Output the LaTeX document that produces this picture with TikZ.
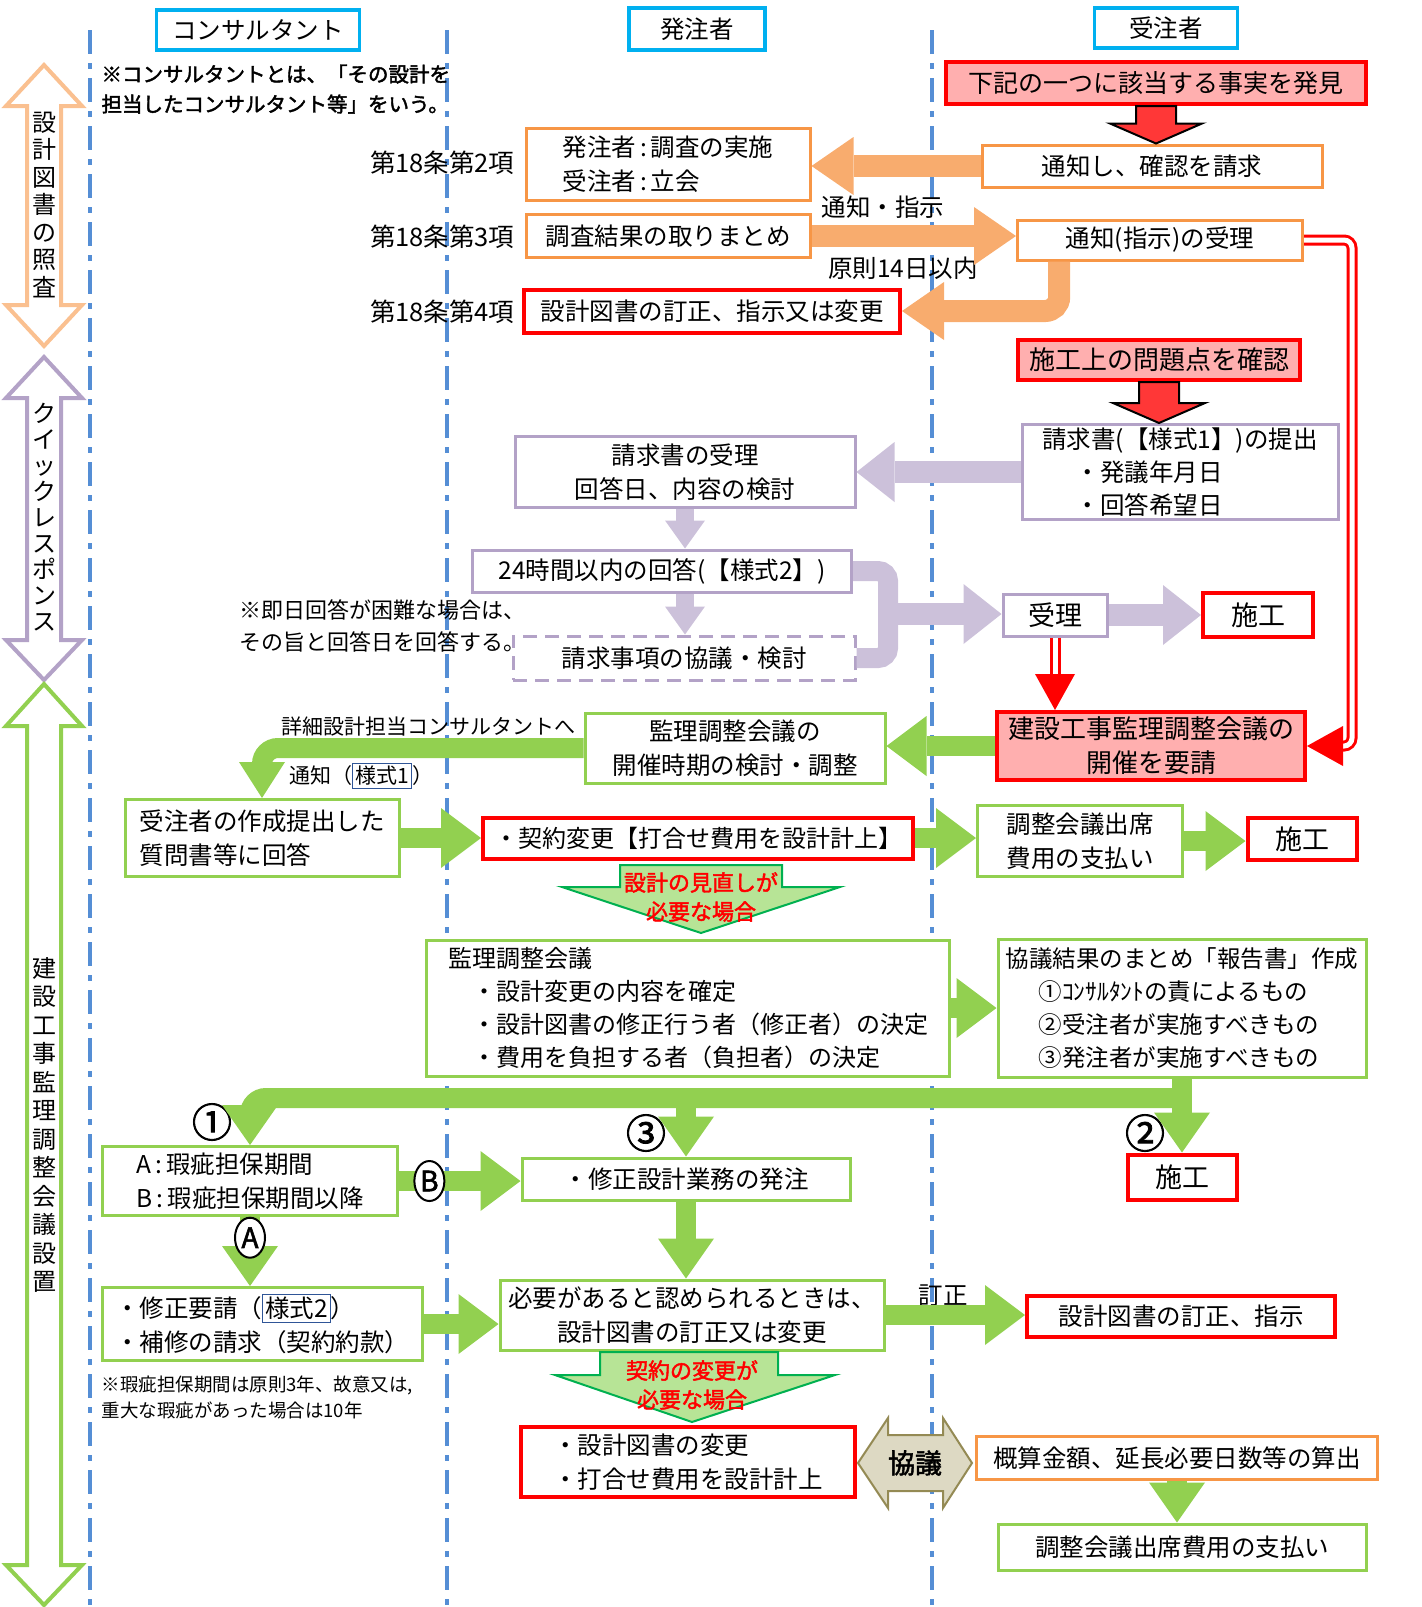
\documentclass[tikz,border=0pt]{standalone}
\usepackage{fontspec}
\setmainfont{Noto Sans CJK JP}
\newfontfamily\jpb{Noto Sans CJK JP}[FakeBold=2]
\usepackage{xcolor}
\usetikzlibrary{arrows.meta, calc, shapes.geometric, positioning}

\definecolor{hcyan}{RGB}{0,176,240}
\definecolor{orng}{RGB}{247,150,70}
\definecolor{orngl}{RGB}{248,172,110}
\definecolor{peach}{RGB}{250,192,144}
\definecolor{lavd}{RGB}{179,162,199}
\definecolor{lavf}{RGB}{204,193,218}
\definecolor{grn}{RGB}{146,208,80}
\definecolor{pinkf}{RGB}{255,175,175}
\definecolor{redf}{RGB}{255,55,55}
\definecolor{callf}{RGB}{183,228,150}
\definecolor{calld}{RGB}{0,176,80}
\definecolor{khakif}{RGB}{221,217,195}
\definecolor{khakid}{RGB}{148,138,84}
\definecolor{laneblue}{RGB}{85,142,213}
\definecolor{styblue}{RGB}{47,85,151}

\newcommand{\fs}[2]{\fontsize{#1}{#2}\selectfont}
\newcommand{\stybox}[1]{{\setlength{\fboxsep}{2pt}\setlength{\fboxrule}{1.2pt}\fcolorbox{styblue}{white}{#1}}}

\begin{document}
\begin{tikzpicture}[x=1pt, y=-1pt, font={\fs{24.5}{34}},
            box/.style={rectangle, draw, line width=3pt, fill=white, inner sep=2pt, align=center},
            hbox/.style={box, draw=hcyan, line width=3.5pt},
            obox/.style={box, draw=orng},
            rbox/.style={box, draw=red, line width=4pt},
            pbox/.style={rbox, fill=pinkf},
            lbox/.style={box, draw=lavd},
            gbox/.style={box, draw=grn},
            lane/.style={draw=laneblue, line width=4pt, dash pattern=on 24pt off 9pt on 6pt off 9pt},
            oarrow/.style={draw=orngl, line width=22pt, -{Triangle[width=58pt,length=42pt,line width=0pt]}},
            larrow/.style={draw=lavf, line width=22pt, -{Triangle[width=60pt,length=38pt,line width=0pt]}},
            ldown/.style={draw=lavf, line width=18pt, -{Triangle[width=40pt,length=28pt,line width=0pt]}},
            lline/.style={draw=lavf, line width=20pt},
            garrow/.style={draw=grn, line width=20pt, -{Triangle[width=60pt,length=40pt,line width=0pt]}},
            gdown/.style={draw=grn, line width=20pt, -{Triangle[width=56pt,length=40pt,line width=0pt]}},
            gbend/.style={draw=grn, line width=20pt, -{Triangle[width=46pt,length=36pt,line width=0pt]}},
            reddbl/.style={draw=red, line width=3pt, double=white, double distance=5pt, -{Triangle[width=40pt,length=36pt,line width=0pt]}},
            redblk/.style={draw=black, line width=2pt, fill=redf},
            callout/.style={draw=calld, line width=2pt, fill=callf},
            vband/.style={line width=4pt, fill=white},
            abcirc/.style={ellipse, draw=black, line width=2pt, fill=white, inner sep=0pt, minimum width=30pt, minimum height=40pt, font={\jpb\fs{28}{30}}},
            circnum/.style={font={\jpb\fs{40}{42}}},
            label/.style={inner sep=1pt}
        ]
\useasboundingbox (0,0) rectangle (1422,1607);

% Lanes
\draw[lane] (90,30) -- (90,1607);
\draw[lane] (447,30) -- (447,1607);
\draw[lane] (932,30) -- (932,1607);

% Phase bands
\draw[vband, draw=peach] (44,65) -- (82,106) -- (61,106) -- (61,305) -- (82,305) -- (44,346) -- (6,305) -- (27,305) -- (27,106) -- (6,106) -- cycle;
\node[align=center, font={\fs{24}{27.5}}] (vt1) at (44,205) {設\\計\\図\\書\\の\\照\\査};
\draw[vband, draw=lavd] (44,357) -- (82,398) -- (61,398) -- (61,640) -- (82,640) -- (44,680) -- (6,640) -- (27,640) -- (27,398) -- (6,398) -- cycle;
\node[align=center, font={\fs{24}{26}}] (vt2) at (44,517) {ク\\イ\\ッ\\ク\\レ\\ス\\ポ\\ン\\ス};
\draw[vband, draw=grn] (44,684) -- (82,726) -- (61,726) -- (61,1565) -- (82,1565) -- (44,1605) -- (6,1565) -- (27,1565) -- (27,726) -- (6,726) -- cycle;
\node[align=center, font={\fs{24}{28.5}}] (vt3) at (44,1125) {建\\設\\工\\事\\監\\理\\調\\整\\会\\議\\設\\置};

% Headers
\node[hbox, minimum width=203pt, minimum height=40pt] (hcon) at (258,30) {コンサルタント};
\node[hbox, minimum width=136pt, minimum height=42pt] (hord) at (697,29) {発注者};
\node[hbox, minimum width=143pt, minimum height=40pt] (hctr) at (1166,28) {受注者};
\node[anchor=north west, align=left, font={\jpb\fs{20.5}{30}}] (note1) at (98,61) {※コンサルタントとは、「その設計を\\担当したコンサルタント等」をいう。};

% Design document check
\node[pbox, minimum width=420pt, minimum height=42pt, font={\fs{25}{30}}] (find) at (1156,83) {下記の一つに該当する事実を発見};
\node[obox, minimum width=340pt, minimum height=42pt] (req1) at (1152,166) {通知し、確認を請求};
\node[obox, minimum width=284pt, minimum height=72pt, align=left] (inv) at (668,164) {発注者\,:\,調査の実施\\受注者\,:\,立会};
\node[anchor=east, font={\fs{25.5}{30}}] (art2) at (518,163) {第18条第2項};
\node[obox, minimum width=284pt, minimum height=43pt] (sum) at (668,236) {調査結果の取りまとめ};
\node[anchor=east, font={\fs{25.5}{30}}] (art3) at (518,237) {第18条第3項};
\node[obox, minimum width=285pt, minimum height=40pt] (nt2) at (1160,240) {通知(指示)の受理};
\node[anchor=east, font={\fs{25.5}{30}}] (art4) at (518,312) {第18条第4項};
\node[rbox, minimum width=376pt, minimum height=43pt] (fix1) at (712,311) {設計図書の訂正、指示又は変更};
\node[label] (lbl1) at (883,207) {通知・指示};
\node[label] (lbl2) at (903,268) {原則14日以内};

\draw[redblk] ($(find.south)+(-20,0)$) -- ($(find.south)+(20,0)$) -- ($(find.south |- req1.north)+(20,-20)$) -- ($(find.south |- req1.north)+(46,-20)$) -- (find.south |- req1.north) -- ($(find.south |- req1.north)+(-46,-20)$) -- ($(find.south |- req1.north)+(-20,-20)$) -- cycle;
\draw[oarrow] (req1.west) -- (req1.west -| inv.east);
\draw[oarrow] (sum.east) -- (sum.east -| nt2.west);
\draw[oarrow, rounded corners=14pt] ($(nt2.south west)!0.15!(nt2.south east)$) |- (fix1.east);

% Quick response
\node[pbox, minimum width=282pt, minimum height=40pt, font={\fs{26}{30}}] (chk) at (1159,360) {施工上の問題点を確認};
\node[lbox, minimum width=316pt, minimum height=95pt, align=left, font={\fs{24.5}{33}}] (bill) at (1180,472) {請求書(【様式1】)の提出\\\hspace*{1.35em}・発議年月日\\\hspace*{1.35em}・回答希望日};
\node[lbox, minimum width=340pt, minimum height=71pt] (brec) at (685,472) {請求書の受理\\回答日、内容の検討};
\node[lbox, minimum width=379pt, minimum height=42pt] (h24) at (662,571) {24時間以内の回答(【様式2】)};
\node[lbox, dash pattern=on 14pt off 8pt, minimum width=342pt, minimum height=44pt] (disc) at (684,658) {請求事項の協議・検討};
\node[anchor=west, align=left, font={\fs{22}{32}}] (note2) at (236,626) {※即日回答が困難な場合は、\\その旨と回答日を回答する。};
\node[lbox, minimum width=104pt, minimum height=42pt, font={\fs{27}{30}}] (rcv) at (1055,615) {受理};
\node[rbox, minimum width=110pt, minimum height=44pt, font={\fs{27}{30}}] (sk1) at (1258,615) {施工};
\coordinate (brk) at (888,614);
\coordinate (rbend) at (1352,500);

\draw[redblk] ($(chk.south)+(-20,0)$) -- ($(chk.south)+(20,0)$) -- ($(chk.south |- bill.north)+(20,-20)$) -- ($(chk.south |- bill.north)+(46,-20)$) -- (chk.south |- bill.north) -- ($(chk.south |- bill.north)+(-46,-20)$) -- ($(chk.south |- bill.north)+(-20,-20)$) -- cycle;
\draw[larrow] (bill.west) -- (bill.west -| brec.east);
\draw[ldown] (brec.south) -- (brec.south |- h24.north);
\draw[ldown] (brec.south |- h24.south) -- (brec.south |- disc.north);
\draw[lline, rounded corners=10pt] (h24.east) -| (brk) |- (disc.east);
\draw[larrow] (brk) -- (brk -| rcv.west);
\draw[larrow] (rcv.east) -- (rcv.east -| sk1.west);

% Supervision coordination meeting
\node[pbox, minimum width=308pt, minimum height=68pt, font={\fs{26}{34}}] (kreq) at (1151,746) {建設工事監理調整会議の\\開催を要請};
\node[gbox, minimum width=300pt, minimum height=70pt] (adj) at (735,748) {監理調整会議の\\開催時期の検討・調整};
\node[gbox, minimum width=274pt, minimum height=77pt, align=left] (ans) at (262,838) {受注者の作成提出した\\質問書等に回答};
\node[rbox, minimum width=430pt, minimum height=41pt, font={\fs{24}{30}}] (cchg) at (698,838) {・契約変更【打合せ費用を設計計上】};
\node[gbox, minimum width=205pt, minimum height=71pt] (pay1) at (1080,841) {調整会議出席\\費用の支払い};
\node[rbox, minimum width=109pt, minimum height=42pt, font={\fs{27}{30}}] (sk2) at (1302,839) {施工};
\node[label, font={\fs{21}{26}}] (lbl3) at (428,726) {詳細設計担当コンサルタントへ};
\node[label, anchor=west, font={\fs{21}{26}}] (lbl4) at (288,776) {通知（\stybox{様式1}）};

\draw[reddbl, rounded corners=8pt] (nt2.east) -| (rbend) |- (kreq.east);
\draw[reddbl] (rcv.south) -- (rcv.south |- kreq.north);
\draw[garrow] (kreq.west) -- (kreq.west -| adj.east);
\draw[gbend, rounded corners=16pt] (adj.west) -| (ans.north);
\draw[garrow] (ans.east) -- (ans.east -| cchg.west);
\draw[garrow] (cchg.east) -- (cchg.east -| pay1.west);
\draw[garrow] (pay1.east) -- (pay1.east -| sk2.west);

\draw[callout] (620,865) -- (782,865) -- (782,887) -- (840,887) -- (701,933) -- (562,887) -- (620,887) -- cycle;
\node[align=center, text=red, font={\jpb\fs{22}{29}}] (call1) at (701,897) {設計の見直しが\\必要な場合};

\node[gbox, minimum width=523pt, minimum height=136pt, align=left, font={\fs{24}{33}}] (mtg) at (688,1008) {監理調整会議\\\hspace*{1em}・設計変更の内容を確定\\\hspace*{1em}・設計図書の修正行う者（修正者）の決定\\\hspace*{1em}・費用を負担する者（負担者）の決定};
\node[gbox, minimum width=368pt, minimum height=138pt, align=left, font={\fs{23.5}{33}}] (rep) at (1182,1008) {協議結果のまとめ「報告書」作成\\\hspace*{1.4em}①ｺﾝｻﾙﾀﾝﾄの責によるもの\\\hspace*{1.4em}②受注者が実施すべきもの\\\hspace*{1.4em}③発注者が実施すべきもの};
\draw[garrow] (mtg.east) -- (mtg.east -| rep.west);

% Distribution of results
\node[gbox, minimum width=295pt, minimum height=69pt, align=left] (ab) at (250,1181) {A\,:\,瑕疵担保期間\\B\,:\,瑕疵担保期間以降};
\node[gbox, minimum width=328pt, minimum height=42pt] (ord) at (686,1179) {・修正設計業務の発注};
\node[rbox, minimum width=109pt, minimum height=45pt, font={\fs{27}{30}}] (sk3) at (1182,1177) {施工};
\coordinate (bar) at (1182,1098);
\node[circnum] (c1) at (212,1122) {①};
\node[circnum] (c3) at (646,1133) {③};
\node[circnum] (c2) at (1145,1133) {②};

\draw[gdown] (rep.south) -- (sk3.north);
\draw[gdown, rounded corners=16pt] (rep.south |- bar) -| (ab.north);
\draw[gdown] (bar -| ord.north) -- (ord.north);

\node[gbox, minimum width=320pt, minimum height=73pt, align=left] (rq) at (262,1324) {・修正要請（\stybox{様式2}）\\・補修の請求（契約約款）};
\node[gbox, minimum width=384pt, minimum height=70pt] (need) at (692,1315) {必要があると認められるときは、\\設計図書の訂正又は変更};
\node[rbox, minimum width=308pt, minimum height=41pt] (fix2) at (1181,1316) {設計図書の訂正、指示};
\node[label] (lbl5) at (943,1296) {訂正};
\node[anchor=north west, align=left, font={\fs{18.5}{26}}] (note3) at (98,1372) {※瑕疵担保期間は原則3年、故意又は,\\重大な瑕疵があった場合は10年};

\draw[garrow] (ab.east) -- (ab.east -| ord.west) node[pos=0.25, abcirc] (cB) {B};
\draw[gdown] (ab.south) -- (ab.south |- rq.north) node[pos=0.3, abcirc] (cA) {A};
\draw[gdown] (ord.south) -- (ord.south |- need.north);
\draw[garrow] (rq.east) -- (rq.east -| need.west);
\draw[garrow] (need.east) -- (need.east -| fix2.west);

\draw[callout] (600,1352) -- (778,1352) -- (778,1375) -- (835,1375) -- (692,1422) -- (555,1375) -- (600,1375) -- cycle;
\node[align=center, text=red, font={\jpb\fs{22}{29}}] (call2) at (692,1385) {契約の変更が\\必要な場合};

% Contract change
\node[rbox, minimum width=334pt, minimum height=70pt, align=left] (chg) at (688,1462) {・設計図書の変更\\・打合せ費用を設計計上};
\node[obox, minimum width=401pt, minimum height=43pt] (est) at (1177,1458) {概算金額、延長必要日数等の算出};
\node[gbox, minimum width=368pt, minimum height=46pt] (pay2) at (1182,1547) {調整会議出席費用の支払い};
\draw[line width=2pt, draw=khakid, fill=khakif] (858,1463) -- (888,1418) -- (888,1435) -- (943,1435) -- (943,1418) -- (972,1463) -- (943,1508) -- (943,1491) -- (888,1491) -- (888,1508) -- cycle;
\node[font={\jpb\fs{27}{30}}] (kyo) at (915,1463) {協議};
\draw[gdown] (est.south) -- (est.south |- pay2.north);

\end{tikzpicture}
\end{document}
